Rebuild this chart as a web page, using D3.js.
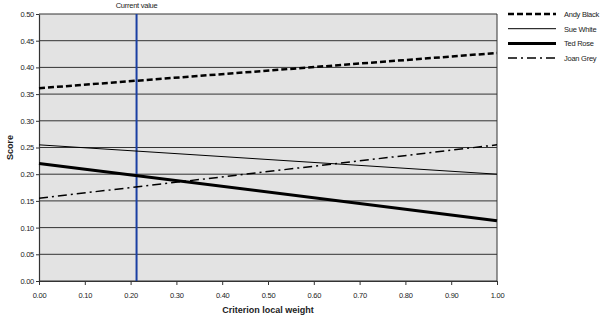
<!DOCTYPE html>
<html lang="en">
<head>
<meta charset="utf-8">
<title>Sensitivity</title>
<script src="https://d3js.org/d3.v7.min.js"></script>
<style>
  body { margin: 0; background: #fff; }
  text { font-family: "Liberation Sans", Arial, sans-serif; fill: #222; }
  .small { font-size: 7.5px; letter-spacing: -0.25px; }
</style>
</head>
<body>
<div id="vis"></div>
<script>
// scores at weight 0 and weight 1 for each option
const names = ["Andy Black", "Sue White", "Ted Rose", "Joan Grey"];
const weights = [0, 1];
const andyBlack = [0.361, 0.427];
const sueWhite = [0.255, 0.200];
const tedRose = [0.220, 0.113];
const joanGrey = [0.155, 0.255];
const currentWeight = 0.213;
const xTicks = [0, 0.1, 0.2, 0.3, 0.4, 0.5, 0.6, 0.7, 0.8, 0.9, 1.0];
const yTicks = [0, 0.05, 0.1, 0.15, 0.2, 0.25, 0.3, 0.35, 0.4, 0.45, 0.5];

const series = [andyBlack, sueWhite, tedRose, joanGrey];
const styles = [
  { w: 2.5, dash: "6,3" },
  { w: 1, dash: null },
  { w: 3, dash: null },
  { w: 1.5, dash: "9,4,2,4" }
];

const width = 600, height = 321;
const plot = { left: 39, right: 497, top: 14, bottom: 281 };

const svg = d3.select("#vis").append("svg")
  .attr("width", width)
  .attr("height", height);

const x = d3.scaleLinear().domain([0, 1]).range([plot.left, plot.right]);
const y = d3.scaleLinear().domain([0, 0.5]).range([plot.bottom, plot.top]);

// plot background
svg.append("rect")
  .attr("x", plot.left).attr("y", plot.top)
  .attr("width", plot.right - plot.left)
  .attr("height", plot.bottom - plot.top)
  .attr("fill", "#e3e3e3");

// horizontal grid
svg.append("g")
  .selectAll("line")
  .data(yTicks)
  .join("line")
  .attr("x1", plot.left).attr("x2", plot.right)
  .attr("y1", d => y(d)).attr("y2", d => y(d))
  .attr("stroke", "#333")
  .attr("stroke-width", 1);

// right border
svg.append("line")
  .attr("x1", plot.right).attr("x2", plot.right)
  .attr("y1", plot.top).attr("y2", plot.bottom)
  .attr("stroke", "#333");

// axes
const yAxis = svg.append("g")
  .attr("transform", `translate(${plot.left},0)`)
  .call(d3.axisLeft(y).tickValues(yTicks).tickFormat(d3.format(".2f")).tickSize(3).tickSizeOuter(0));
const xAxis = svg.append("g")
  .attr("transform", `translate(0,${plot.bottom})`)
  .call(d3.axisBottom(x).tickValues(xTicks).tickFormat(d3.format(".2f")).tickSize(4).tickSizeOuter(0));

[yAxis, xAxis].forEach(a => {
  a.attr("font-size", null).attr("font-family", null);
  a.select(".domain").attr("stroke", "#333").attr("stroke-width", 1.2);
  a.selectAll(".tick line").attr("stroke", "#333");
  a.selectAll(".tick text").attr("class", "small").attr("fill", "#222");
});
yAxis.selectAll(".tick text").attr("x", -5);
xAxis.selectAll(".tick text").attr("y", 12);

// current value marker
svg.append("line")
  .attr("x1", x(currentWeight)).attr("x2", x(currentWeight))
  .attr("y1", plot.top).attr("y2", plot.bottom)
  .attr("stroke", "#1a3fa3")
  .attr("stroke-width", 2);
svg.append("text")
  .attr("class", "small")
  .attr("x", x(currentWeight))
  .attr("y", 8)
  .attr("text-anchor", "middle")
  .text("Current value");

// score lines
const line = d3.line()
  .x((d, i) => x(weights[i]))
  .y(d => y(d));

svg.append("g")
  .selectAll("path")
  .data(series)
  .join("path")
  .attr("d", d => line(d))
  .attr("fill", "none")
  .attr("stroke", "#000")
  .attr("stroke-width", (d, i) => styles[i].w)
  .attr("stroke-dasharray", (d, i) => styles[i].dash);

// legend
const legend = svg.append("g")
  .selectAll("g")
  .data(names)
  .join("g")
  .attr("transform", (d, i) => `translate(508,${14 + i * 14.7})`);
legend.append("line")
  .attr("x1", 0).attr("x2", 48)
  .attr("stroke", "#000")
  .attr("stroke-width", (d, i) => styles[i].w)
  .attr("stroke-dasharray", (d, i) => styles[i].dash);
legend.append("text")
  .attr("class", "small")
  .attr("x", 56).attr("y", 3)
  .text(d => d);

// axis titles
svg.append("text")
  .attr("x", (plot.left + plot.right) / 2)
  .attr("y", 313)
  .attr("text-anchor", "middle")
  .attr("font-size", 9)
  .attr("font-weight", "bold")
  .text("Criterion local weight");
svg.append("text")
  .attr("transform", `translate(13,${(plot.top + plot.bottom) / 2}) rotate(-90)`)
  .attr("text-anchor", "middle")
  .attr("font-size", 9)
  .attr("font-weight", "bold")
  .text("Score");
</script>
</body>
</html>
